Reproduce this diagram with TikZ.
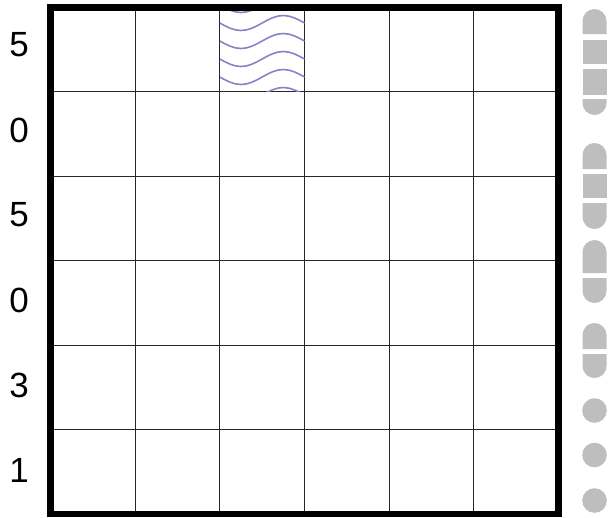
\documentclass[tikz,border=0pt]{standalone}
\usepackage{fontspec}
\setmainfont{Liberation Sans}
\usepackage{xcolor}
\definecolor{wavecol}{HTML}{8484C8}
\definecolor{pillgray}{HTML}{BEBEBE}
\begin{document}
\begin{tikzpicture}[x=1pt, y=-1pt, line join=miter,
  gridline/.style={line width=1pt, black!85},
  frame/.style={line width=6.5pt, black},
  wavy/.style={line width=1.6pt, wavecol},
  pillseg/.style={fill=pillgray},
  digitlabel/.style={font=\fontsize{35}{40}\selectfont, inner sep=0pt}]

  \useasboundingbox (0,0) rectangle (609,517);

  % board: 6 x 6 cells, drawn from the top left corner downwards
  \coordinate (nw) at (50.5,7.5);
  \coordinate (se) at (558.5,514);
  \foreach \i in {1,...,5}{
    \draw[gridline] (50.5+84.67*\i,7.5) -- (50.5+84.67*\i,514);
    \draw[gridline] (50.5,7.5+84.42*\i) -- (558.5,7.5+84.42*\i);
  }

  % waves in the third cell of the top row, clipped to that cell
  \begin{scope}
    \clip (219.8,7.5) rectangle (304.5,91.9);
    \foreach \y in {5,23,41,59,77,95}{
      \draw[wavy] (219.8,\y) sin (241,\y+7.5) cos (262.2,\y) sin (283.3,\y-7.5) cos (304.5,\y);
    }
  \end{scope}

  \draw[frame] (nw) rectangle (se);

  % row labels down the left side
  \foreach \n/\d in {0/5, 1/0, 2/5, 3/0, 4/3, 5/1}{
    \node[digitlabel] (lab\n) at (19,45+85*\n) {\d};
  }

  % grey pills on the right: top caps, middle pieces, bottom caps, dots
  \foreach \t/\b in {9/34, 143/169, 240/273, 323/349}{
    \fill[pillseg] (582.5,\b) -- (582.5,\t+12) arc[start angle=180, end angle=360, radius=12] -- (606.5,\b) -- cycle;
  }
  \foreach \t/\b in {40/64, 69/95, 174/198}{
    \fill[pillseg] (582.5,\t) rectangle (606.5,\b);
  }
  \foreach \t/\b in {99/115, 203/229, 278/303, 354/378}{
    \fill[pillseg] (582.5,\t) -- (582.5,\b-12) arc[start angle=180, end angle=0, radius=12] -- (606.5,\t) -- cycle;
  }
  \foreach \c in {410.5, 455, 500.5}{
    \fill[pillseg] (594.5,\c) circle[radius=12.3];
  }

\end{tikzpicture}
\end{document}
